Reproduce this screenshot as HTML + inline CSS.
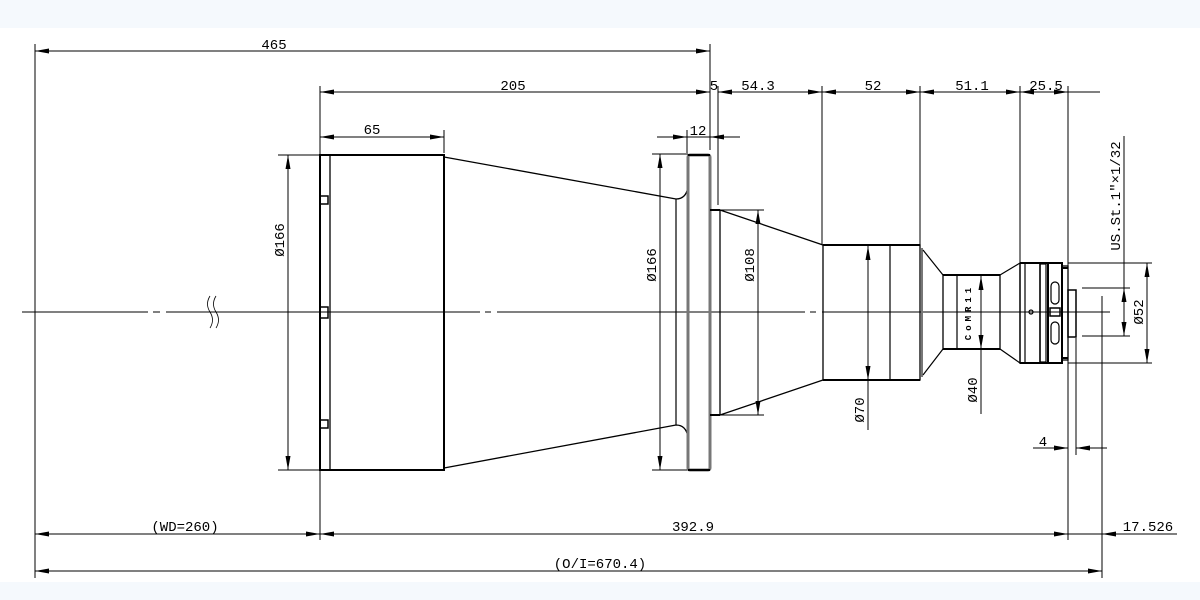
<!DOCTYPE html>
<html><head><meta charset="utf-8"><style>
html,body{margin:0;padding:0;background:#fff}
svg{display:block}
text{font-family:"Liberation Mono","DejaVu Sans Mono",monospace;font-size:14px;fill:#000}
</style></head><body>
<svg width="1200" height="600" viewBox="0 0 1200 600" xmlns="http://www.w3.org/2000/svg">
<defs>
<marker id="a" viewBox="0 0 14 6" refX="14" refY="3" markerWidth="14" markerHeight="6" markerUnits="userSpaceOnUse" orient="auto"><path d="M0,0.5 L14,3 L0,5.5 Z" fill="#000"/></marker>
<marker id="b" viewBox="0 0 14 6" refX="0" refY="3" markerWidth="14" markerHeight="6" markerUnits="userSpaceOnUse" orient="auto"><path d="M14,0.5 L0,3 L14,5.5 Z" fill="#000"/></marker>
</defs>
<rect x="0" y="0" width="1200" height="28" fill="#f5f9fd"/>
<rect x="0" y="582" width="1200" height="18" fill="#f5f9fd"/>
<g stroke="#000" stroke-width="1" fill="none">
<line x1="35" y1="44" x2="35" y2="578"/>
<line x1="320" y1="86" x2="320" y2="540"/>
<line x1="710" y1="44" x2="710" y2="150"/>
<line x1="718" y1="86" x2="718" y2="205"/>
<line x1="822" y1="86" x2="822" y2="245"/>
<line x1="920" y1="86" x2="920" y2="245"/>
<line x1="1020" y1="86" x2="1020" y2="262"/>
<line x1="1068" y1="86" x2="1068" y2="540"/>
<line x1="1076" y1="338" x2="1076" y2="455"/>
<line x1="1102" y1="296" x2="1102" y2="578"/>
<line x1="687" y1="130" x2="687" y2="153"/>
<line x1="444" y1="130" x2="444" y2="153"/>
<line x1="35" y1="51" x2="710" y2="51" marker-start="url(#b)" marker-end="url(#a)"/>
<line x1="320" y1="92" x2="710" y2="92" marker-start="url(#b)" marker-end="url(#a)"/>
<line x1="718" y1="92" x2="822" y2="92" marker-start="url(#b)" marker-end="url(#a)"/>
<line x1="822" y1="92" x2="920" y2="92" marker-start="url(#b)" marker-end="url(#a)"/>
<line x1="920" y1="92" x2="1020" y2="92" marker-start="url(#b)" marker-end="url(#a)"/>
<line x1="1020" y1="92" x2="1068" y2="92" marker-start="url(#b)" marker-end="url(#a)"/>
<line x1="1068" y1="92" x2="1100" y2="92"/>
<line x1="320" y1="137" x2="444" y2="137" marker-start="url(#b)" marker-end="url(#a)"/>
<line x1="657" y1="137" x2="687" y2="137" marker-end="url(#a)"/>
<line x1="740" y1="137" x2="710" y2="137" marker-end="url(#a)"/>
<line x1="687" y1="137" x2="710" y2="137"/>
<line x1="35" y1="534" x2="320" y2="534" marker-start="url(#b)" marker-end="url(#a)"/>
<line x1="320" y1="534" x2="1068" y2="534" marker-start="url(#b)" marker-end="url(#a)"/>
<line x1="1068" y1="534" x2="1102" y2="534"/>
<line x1="1177" y1="534" x2="1102" y2="534" marker-end="url(#a)"/>
<line x1="35" y1="571" x2="1102" y2="571" marker-start="url(#b)" marker-end="url(#a)"/>
<line x1="1033" y1="448" x2="1068" y2="448" marker-end="url(#a)"/>
<line x1="1107" y1="448" x2="1076" y2="448" marker-end="url(#a)"/>
<line x1="278" y1="155" x2="320" y2="155"/><line x1="278" y1="470" x2="320" y2="470"/>
<line x1="288" y1="155" x2="288" y2="470" marker-start="url(#b)" marker-end="url(#a)"/>
<line x1="652" y1="154" x2="688" y2="154"/><line x1="652" y1="470" x2="688" y2="470"/>
<line x1="660" y1="154" x2="660" y2="470" marker-start="url(#b)" marker-end="url(#a)"/>
<line x1="720" y1="210" x2="764" y2="210"/><line x1="720" y1="415" x2="764" y2="415"/>
<line x1="758" y1="210" x2="758" y2="415" marker-start="url(#b)" marker-end="url(#a)"/>
<line x1="868" y1="246" x2="868" y2="380" marker-start="url(#b)" marker-end="url(#a)"/>
<line x1="868" y1="380" x2="868" y2="430"/>
<line x1="981" y1="276" x2="981" y2="349" marker-start="url(#b)" marker-end="url(#a)"/>
<line x1="981" y1="349" x2="981" y2="414"/>
<line x1="1068" y1="263" x2="1152" y2="263"/><line x1="1068" y1="363" x2="1152" y2="363"/>
<line x1="1147" y1="263" x2="1147" y2="363" marker-start="url(#b)" marker-end="url(#a)"/>
<line x1="1082" y1="288" x2="1130" y2="288"/><line x1="1082" y1="336" x2="1130" y2="336"/>
<line x1="1124" y1="136" x2="1124" y2="288"/>
<line x1="1124" y1="288" x2="1124" y2="336" marker-start="url(#b)" marker-end="url(#a)"/>
<path d="M22,312 H148 M153,312 H160 M166,312 H480 M485,312 H491 M497,312 H805 M810,312 H816 M822,312 H1110"/>
<path d="M210,296 q-5,8 0,16 q5,8 0,16 M216,296 q-5,8 0,16 q5,8 0,16" stroke-width="0.8"/>
</g>
<g stroke="#000" fill="none">
<rect x="320" y="155" width="124" height="315" stroke-width="2"/>
<line x1="330" y1="155" x2="330" y2="470" stroke-width="1.3"/>
<rect x="320" y="196" width="8" height="8" stroke-width="1.5"/>
<rect x="320" y="307" width="8" height="11" stroke-width="1.5"/>
<rect x="320" y="420" width="8" height="8" stroke-width="1.5"/>
<path d="M444,157 L676,199 Q686,199 688,187" stroke-width="1.3"/>
<path d="M444,468 L676,425 Q686,425 688,437" stroke-width="1.3"/>
<line x1="676" y1="199" x2="676" y2="425" stroke-width="1.2"/>
<rect x="688" y="155" width="22" height="315" rx="2" stroke="#777" stroke-width="3"/>
<line x1="688" y1="155" x2="710" y2="155" stroke-width="2"/>
<line x1="688" y1="470" x2="710" y2="470" stroke-width="2"/>
<path d="M710,210 H720 V415 H710" stroke-width="1.3"/>
<line x1="710" y1="210" x2="720" y2="210" stroke-width="2"/>
<line x1="710" y1="415" x2="720" y2="415" stroke-width="2"/>
<path d="M720,210 L823,245 M720,415 L823,380" stroke-width="1.3"/>
<rect x="823" y="245" width="97" height="135" stroke-width="1.3"/>
<line x1="823" y1="245" x2="920" y2="245" stroke-width="2"/>
<line x1="823" y1="380" x2="920" y2="380" stroke-width="2"/>
<line x1="890" y1="245" x2="890" y2="380" stroke-width="1.2"/>
<line x1="922" y1="248" x2="922" y2="377" stroke="#777" stroke-width="2"/>
<path d="M923,250 L943,275 M923,375 L943,349" stroke-width="1.2"/>
<rect x="943" y="275" width="57" height="74" stroke-width="1.3"/>
<line x1="943" y1="275" x2="1000" y2="275" stroke-width="2"/>
<line x1="943" y1="349" x2="1000" y2="349" stroke-width="2"/>
<line x1="957" y1="275" x2="957" y2="349" stroke-width="1.2"/>
<path d="M1000,275 L1020,263 M1000,349 L1020,363" stroke-width="1.2"/>
<rect x="1020" y="263" width="20" height="100" stroke-width="1.5"/>
<line x1="1020" y1="263" x2="1048" y2="263" stroke-width="2"/>
<line x1="1020" y1="363" x2="1048" y2="363" stroke-width="2"/>
<line x1="1025" y1="263" x2="1025" y2="363" stroke-width="1.2"/>
<rect x="1040" y="264" width="6" height="98" stroke-width="1.2"/>
<rect x="1048" y="263" width="14" height="100" stroke-width="2"/>
<rect x="1062" y="266" width="6" height="94" stroke-width="1.3"/>
<line x1="1062" y1="268" x2="1068" y2="268" stroke-width="2"/>
<line x1="1062" y1="358" x2="1068" y2="358" stroke-width="2"/>
<rect x="1068" y="290" width="8" height="47" stroke-width="1.5"/>
<rect x="1051" y="282" width="8" height="22" rx="4" stroke-width="1.2"/>
<rect x="1051" y="322" width="8" height="22" rx="4" stroke-width="1.2"/>
<rect x="1050" y="308" width="10" height="8" stroke-width="1.5"/>
<circle cx="1031" cy="312" r="2" stroke-width="1.2"/>
</g>
<text transform="translate(971,312) rotate(-90)" text-anchor="middle" style="font-size:9px;font-weight:bold;letter-spacing:4px">CoMR11</text>
<text x="274" y="49" text-anchor="middle">465</text>
<text x="513" y="90" text-anchor="middle">205</text>
<text x="714" y="90" text-anchor="middle">5</text>
<text x="758" y="90" text-anchor="middle">54.3</text>
<text x="873" y="90" text-anchor="middle">52</text>
<text x="972" y="90" text-anchor="middle">51.1</text>
<text x="1046" y="90" text-anchor="middle">25.5</text>
<text x="372" y="134" text-anchor="middle">65</text>
<text x="698" y="135" text-anchor="middle">12</text>
<text x="185" y="531" text-anchor="middle">(WD=260)</text>
<text x="693" y="531" text-anchor="middle">392.9</text>
<text x="1148" y="531" text-anchor="middle">17.526</text>
<text x="600" y="568" text-anchor="middle">(O/I=670.4)</text>
<text x="1043" y="446" text-anchor="middle">4</text>
<text transform="translate(284,240) rotate(-90)" text-anchor="middle">Ø166</text>
<text transform="translate(656,265) rotate(-90)" text-anchor="middle">Ø166</text>
<text transform="translate(754,265) rotate(-90)" text-anchor="middle">Ø108</text>
<text transform="translate(864,410) rotate(-90)" text-anchor="middle">Ø70</text>
<text transform="translate(977,390) rotate(-90)" text-anchor="middle">Ø40</text>
<text transform="translate(1143,312) rotate(-90)" text-anchor="middle">Ø52</text>
<text transform="translate(1120,196) rotate(-90)" text-anchor="middle">US.St.1″×1/32</text>
</svg>
</body></html>
